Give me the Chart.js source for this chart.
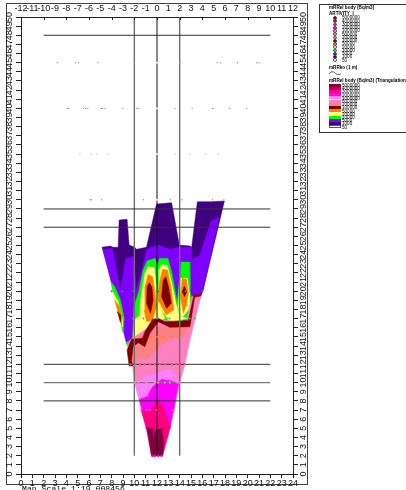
<!DOCTYPE html>
<html>
<head>
<meta charset="utf-8">
<title>Map</title>
<script src="https://cdn.jsdelivr.net/npm/chart.js@4/dist/chart.umd.min.js"></script>
<style>
  html, body { margin: 0; padding: 0; background: #fff; width: 406px; height: 490px; overflow: hidden; }
  body { position: relative; font-family: "Liberation Sans", sans-serif; color: #000; }
  #myChart { position: absolute; left: 0; top: 0; }
  #frame { position: absolute; left: 6px; top: 3px; width: 302px; height: 482px; border: 1px solid #444; box-sizing: border-box; }
  #scale { position: absolute; left: 22px; top: 484px; font: 8px "Liberation Mono", monospace; letter-spacing: 0.1px; white-space: nowrap; }
  #legend { position: absolute; left: 319px; top: 4px; width: 87px; height: 129px; border: 1px solid #333; border-right: 0; box-sizing: border-box; overflow: hidden; font-size: 4.6px; line-height: 5px; }
  #legend div { position: absolute; white-space: nowrap; }
  #legend .head { font-weight: bold; }
</style>
</head>
<body>
<div id="frame"></div>
<canvas id="myChart" width="406" height="490"></canvas>
<div id="scale">Map Scale 1:19.008456</div>
<div id="legend"></div>
<script>
// axis ticks
const bottomTicks = [0,1,2,3,4,5,6,7,8,9,10,11,12,13,14,15,16,17,18,19,20,21,22,23,24];
const topTicks = [-12,-11,-10,-9,-8,-7,-6,-5,-4,-3,-2,-1,0,1,2,3,4,5,6,7,8,9,10,11,12];
const topMarks = [-10,-8,-6,-4,-2,0,2,4,6,8,10];
const sideTicks = [0,1,2,3,4,5,6,7,8,9,10,11,12,13,14,15,16,17,18,19,20,21,22,23,24,25,26,27,28,29,30,31,32,33,34,35,36,37,38,39,40,41,42,43,44,45,46,47,48,49,50];

// section lines
const horizontalDark = [48, 29, 27, 12, 8];
const horizontalGrey = [10];
const horizontalFromTo = [2, 22];
const verticalGrey = [10, 14];
const verticalDark = [12];
const verticalFromTo = [2, 50];

// triangulated bands, x / y in map units
const darkPurpleBand = [[7.15,24.8],[7.89,24.94],[8.12,24.8],[8.57,24.8],[8.66,27.79],[9.36,27.86],[9.54,25.05],[10.04,24.8],[10.19,24.58],[11.07,24.8],[11.96,29.54],[13.29,29.68],[13.97,25.05],[14.91,24.94],[15.06,24.8],[15.56,29.79],[16.83,29.79],[17.95,29.87],[16.03,19.95],[14.91,16.85],[9.6,13.93]];
const violetBand = [[7.24,24.58],[8.07,24.69],[8.77,20.13],[9.25,23.59],[9.9,23.78],[10.19,20.06],[10.84,23.23],[11.07,24.58],[12.11,25.05],[13.14,24.58],[13.88,24.8],[15,24.8],[15.06,23.41],[15.79,23.96],[16.74,27.61],[17.5,28.08],[16.03,19.95],[15.2,19.4],[14.91,16.48],[9.6,13.93],[9.3,14.29]];
const greenCenter = [[9.25,14.37],[9.84,14.73],[9.95,18.23],[10.43,20.13],[10.78,22.32],[11.13,23.34],[11.84,23.59],[12.08,22.68],[12.2,23.59],[12.96,23.59],[13.32,21.95],[13.79,18.67],[13.91,20.49],[14.14,23.19],[14.85,23.19],[14.91,20.13],[15.06,19.03],[14.85,17.03],[11.96,15.75],[9.6,13.57]];
const greenLeft = [[7.92,21.04],[8.27,20.49],[8.77,19.03],[9.1,17.03],[9.01,15.39]];
const yellowLeft = [[8.07,19.95],[8.57,18.85],[8.92,17.03],[8.95,16.12]];
const yellowOne = [[10.48,17.39],[10.54,19.03],[10.93,21.95],[11.22,22.68],[11.75,22.61],[11.96,20.49],[12.11,18.67],[12.7,17.03],[11.22,16.12],[10.63,15.39],[9.9,14.84],[10.04,16.85]];
const yellowTwo = [[12.17,22.32],[12.4,22.86],[12.9,22.86],[13.23,21.22],[13.67,18.67],[14.02,17.21],[14.76,17.03],[13.14,16.66],[12.11,18.49]];
const yellowThree = [[13.97,20.13],[14.08,21.41],[14.67,21.41],[14.85,19.76],[14.85,18.12],[14.17,17.03],[13.88,18.31]];
const orangeLeft = [[8.27,19.03],[8.71,18.31],[8.92,17.03],[8.89,16.3]];
const orangeOne = [[10.87,17.94],[10.93,20.49],[11.22,21.84],[11.61,21.59],[11.84,19.76],[11.96,18.31],[11.61,16.85],[11.07,16.66]];
const orangeTwo = [[12.11,19.03],[12.2,20.86],[12.49,22.39],[12.93,22.32],[13.23,20.49],[13.49,17.94],[12.79,17.39]];
const orangeThree = [[14.08,19.4],[14.23,21.41],[14.61,21.3],[14.76,19.76],[14.61,18.49],[14.32,17.58]];
const redLeft = [[8.51,17.76],[8.8,17.39],[8.77,16.66]];
const redOne = [[11.07,18.67],[11.13,20.49],[11.31,20.93],[11.55,20.49],[11.66,19.03],[11.43,17.58]];
const redTwo = [[12.4,19.4],[12.55,21.22],[12.79,21.59],[13.08,20.13],[13.26,18.67],[12.84,18.12]];
const redThree = [[14.23,19.95],[14.41,20.57],[14.61,19.95],[14.44,19.4]];
const pinkBase = [[15.06,19.4],[15.94,19.76],[14.91,14.66],[14.47,12],[14.02,10],[13.14,5],[12.49,2],[11.52,2],[11.07,5],[10.04,10],[9.75,12.47],[9.4,14],[9.6,14.66],[10.93,15.75],[12.11,16.85],[14.61,16.66]];
const salmonBand = [[9.66,12.47],[9.75,13.93],[10.78,14.11],[11.31,15.39],[12.11,16.12],[14.76,16.12],[14.32,15.03],[13.14,14.84],[12.4,14.11],[11.07,12.47],[10.5,12.84],[9.9,12.03]];
const redBand = [[9.36,13.57],[9.75,14.73],[10.72,14.84],[10.93,15.57],[11.6,16.92],[12.11,17.03],[12.7,16.66],[14.76,16.77],[15.26,19.58],[15.94,19.76],[15.85,19.47],[15.32,19.33],[14.91,16.12],[13.14,16.05],[12.11,16.66],[11.37,15.39],[10.93,13.93],[10.34,14.37],[9.9,13.93],[9.75,12.47],[9.84,11.82],[9.54,11.82]];
const orchidBand = [[10.04,9.99],[10.93,10.58],[11.96,11.01],[13.14,11.56],[13.79,10.47],[14.02,9.99],[13.14,5],[12.49,2],[11.52,2],[11.07,5]];
const magentaBand = [[10.43,8.17],[11.13,8.46],[11.61,9.55],[12.4,10.36],[13.14,10.21],[13.91,9.92],[13.43,6.82],[13.14,5],[11.07,5]];
const deepPinkBand = [[10.57,7.07],[11.37,6.93],[12.11,8.1],[12.55,7.37],[13.08,5.54],[13.14,5],[12.49,2],[11.52,2],[11.07,5]];
const maroonBand = [[11.13,5.1],[11.61,5.1],[11.66,3.72],[11.84,4.81],[12.4,4.98],[12.61,3.35],[12.49,2],[11.52,2]];

// sample points, one row per depth
const rowY45 = [3.2,4.8,5.1,6.8,10,14,17.3,17.6,19.1,20.8,21];
const rowY40 = [4.1,4.2,5.5,5.7,5.9,7.1,7.2,7.4,9,10.2,10.4,13.6,15.1,16.9,16.95,18.4,19.9];
const rowY35 = [5.2,6.2,6.7,7.7,13.6,14.9,16.3,17.4];
const rowY30 = [6.1,6.2,7.1,10.8,13.2,14.2,16.9,17.9];
const rowY20 = [8,8.9,9.9,12,12.1,13.1,14.5,16];
const rowY17 = [9.9,10.8,12,13.1,14.9,15.35];
const rowY15 = [10,10.6,11.4,12,12.55,13.3,13.9];
const rowY12 = [9.66,10.04,10.5,10.9,11.4,11.8,12.25,12.7,13.3,13.7,14,14.45];
const rowY10 = [10.04,10.34,11.07,11.8,12.1,12.7,13.14,13.8,14];
const rowY7 = [10.63,11.07,11.37,11.96,13.3,13.5];
const rowY5 = [11.07,11.37,11.8,12.1,12.55,13.05];
const rowY2 = [11.6,11.8,12.1,12.4];
// pale samples sitting on the x=12 section line
const gapDepths = [45, 40, 35, 30];
const gapX = 12;

// legend
const legendColors = ['#800040','#c00060','#ff0080','#ff00ff','#ff80ff','#ff80c0','#ff8080','#800000','#ff8000','#ffff80','#00ff00','#8000ff','#400080','#ffffff'];
const legendValues = ['5000000','4000000','3000000','2000000','1000000','500000','200000','100000','50000','20000','10000','5000','1000','50'];

const bands = [
    [darkPurpleBand, '#400080'], [violetBand, '#8000ff'],
    [greenCenter, '#00ff00'], [greenLeft, '#00ff00'],
    [yellowLeft, '#ffff80'], [yellowOne, '#ffff80'], [yellowTwo, '#ffff80'], [yellowThree, '#ffff80'],
    [orangeLeft, '#ff8000'], [orangeOne, '#ff8000'], [orangeTwo, '#ff8000'], [orangeThree, '#ff8000'],
    [redLeft, '#800000'], [redOne, '#800000'], [redTwo, '#800000'], [redThree, '#800000'],
    [pinkBase, '#ff80c0'], [salmonBand, '#ff8080'], [redBand, '#800000'],
    [orchidBand, '#ff80ff'], [magentaBand, '#ff00ff'], [deepPinkBand, '#ff0080'], [maroonBand, '#800040']
];

const rows = [
    [rowY45, 45, '#999999', 0.7], [rowY40, 40, '#999999', 0.7], [rowY35, 35, '#aaaaaa', 0.7], [rowY30, 30, '#999999', 0.7],
    [rowY20, 20, '#20a020', 1], [rowY17, 17, '#40c040', 1], [rowY15, 15, '#ff8000', 1], [rowY12, 12, '#ff5070', 1.1],
    [rowY10, 10, '#ff80c0', 1.1], [rowY7, 7, '#ff50d0', 1.1], [rowY5, 5, '#e00070', 1.1], [rowY2, 2, '#ff0080', 1.2]
];

let datasets = [];
bands.forEach(function(b) {
    let pts = b[0].map(function(p) { return { x: p[0], y: p[1] }; });
    pts.push(pts[0]);
    datasets.push({ data: pts, showLine: true, fill: 'shape', backgroundColor: b[1], borderColor: b[1], borderWidth: 0.5, pointRadius: 0, tension: 0 });
});

function lineSet(pts, color, width) {
    datasets.push({ data: pts, showLine: true, fill: false, borderColor: color, borderWidth: width, pointRadius: 0, tension: 0 });
}
verticalGrey.forEach(function(v) { lineSet(verticalFromTo.map(function(y) { return { x: v, y: y }; }), '#6e6e6e', 1.4); });
verticalDark.forEach(function(v) { lineSet(verticalFromTo.map(function(y) { return { x: v, y: y }; }), '#111111', 1); });
horizontalDark.forEach(function(h) { lineSet(horizontalFromTo.map(function(x) { return { x: x, y: h }; }), '#333333', 1); });
horizontalGrey.forEach(function(h) { lineSet(horizontalFromTo.map(function(x) { return { x: x, y: h }; }), '#777777', 1.4); });

rows.forEach(function(r) {
    datasets.push({
        data: r[0].map(function(x) { return { x: x, y: r[1] }; }),
        showLine: false, pointRadius: r[3], pointBorderWidth: 0, pointBackgroundColor: r[2]
    });
});
datasets.push({
    data: gapDepths.map(function(y) { return { x: gapX, y: y }; }),
    showLine: false, pointRadius: 1, pointBorderWidth: 0, pointBackgroundColor: '#ffffff'
});

// first in the list is painted first
datasets.forEach(function(d, i) { d.order = datasets.length - i; });

function setTicks(list) {
    return function(scale) { scale.ticks = list.map(function(v) { return { value: v }; }); };
}
function axis(position, min, max, list, size) {
    let horizontal = position === 'top' || position === 'bottom';
    let isTop = position === 'top';
    return {
        type: 'linear', position: position, min: min, max: max,
        afterBuildTicks: setTicks(list),
        afterFit: function(scale) { if (horizontal) scale.height = size; else scale.width = size; },
        border: { display: true, color: '#222', width: 1 },
        grid: { drawOnChartArea: false, drawTicks: !isTop, tickLength: horizontal ? 4 : 5, tickColor: '#222', tickWidth: 1 },
        ticks: {
            autoSkip: false, color: '#111', padding: isTop ? 3 : (horizontal ? 0 : 1),
            font: { family: 'Liberation Sans', size: 9 },
            minRotation: horizontal ? 0 : 90, maxRotation: horizontal ? 0 : 90,
            crossAlign: horizontal ? 'near' : 'center',
            callback: function(v) { return String(v); }
        }
    };
}

// top axis ticks point into the plot
const inwardTicks = {
    id: 'inwardTicks',
    afterDraw: function(chart) {
        let ctx = chart.ctx, sc = chart.scales.x2;
        ctx.save();
        ctx.strokeStyle = '#222';
        ctx.lineWidth = 1;
        topMarks.forEach(function(v) {
            let px = Math.round(sc.getPixelForValue(v)) + 0.5;
            ctx.beginPath();
            ctx.moveTo(px, chart.chartArea.top);
            ctx.lineTo(px, chart.chartArea.top + 3);
            ctx.stroke();
        });
        ctx.restore();
    }
};

new Chart(document.getElementById('myChart'), {
    type: 'scatter',
    data: { datasets: datasets },
    plugins: [inwardTicks],
    options: {
        responsive: false, animation: false, devicePixelRatio: 1,
        layout: { padding: { left: 0, top: 0, right: 88, bottom: 0 } },
        plugins: { legend: { display: false }, tooltip: { enabled: false }, title: { display: false } },
        scales: {
            x: axis('bottom', 0, 24, bottomTicks, 16),
            x2: axis('top', -12, 12, topTicks, 17),
            y: axis('left', 0, 50, sideTicks, 21),
            y2: axis('right', 0, 50, sideTicks, 25)
        }
    }
});

// legend box, same colours as the bands
const legend = document.getElementById('legend');
function addText(txt, left, top, cls) {
    let d = document.createElement('div');
    d.textContent = txt;
    d.style.left = (left - 320) + 'px';
    d.style.top = (top - 5) + 'px';
    if (cls) d.className = cls;
    legend.appendChild(d);
}
function addBox(left, top, w, h, color, border, radius) {
    let d = document.createElement('div');
    d.style.cssText = 'left:' + (left - 320) + 'px;top:' + (top - 5) + 'px;width:' + w + 'px;height:' + h + 'px;background:' + color + ';box-sizing:border-box;';
    if (border) d.style.border = border;
    if (radius) d.style.borderRadius = radius;
    legend.appendChild(d);
}
addText('mRRel body (Bq/m3)', 329, 5, 'head');
addText('ARTIVITY_I', 329, 11, 'head');
legendColors.forEach(function(c, i) {
    addBox(333, 16 + i * 3.25, 3.8, 3.8, c, '0.3px solid #444', '50%');
    addText(legendValues[i], 342, 15.4 + i * 3.25);
});
addText('mRRko (1 m)', 329, 65, 'head');
legend.insertAdjacentHTML('beforeend', '<svg style="position:absolute;left:9px;top:66px" width="13" height="5"><path d="M0 3 Q3 -1 6 2 T12 3" fill="none" stroke="#222" stroke-width="0.7"/></svg>');
addText('mRRel body (Bq/m3) (Triangulation)', 329, 78, 'head');
legendColors.forEach(function(c, i) {
    addBox(329, 83.5 + i * 3.2, 11.5, 3.2, c, i === legendColors.length - 1 ? '0.4px solid #555' : '');
    addText(legendValues[i], 342, 83 + i * 3.2);
});
</script>
</body>
</html>
